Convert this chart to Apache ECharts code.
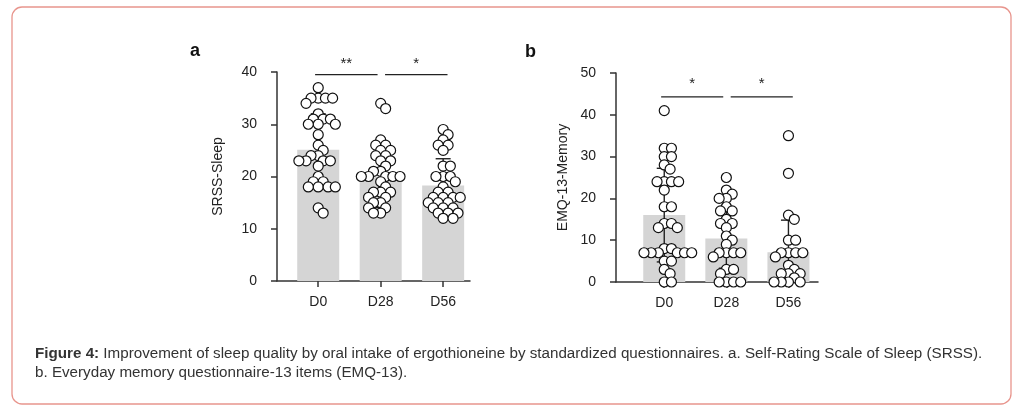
<!DOCTYPE html>
<html><head><meta charset="utf-8">
<script src="https://cdn.jsdelivr.net/npm/echarts@6/dist/echarts.min.js"></script>
<style>html,body{margin:0;padding:0;background:#fff}#c{width:1026px;height:414px}</style>
</head><body><div id="c"></div>
<script>
// ---- data ----
const categories = ['D0', 'D28', 'D56'];
const srssD0  = [37,35,35,35,35,34,32,31,31,31,30,30,30,28,26,25,24,24,23,23,23,23,22,20,19,19,18,18,18,18,14,13];
const srssD28 = [34,33,27,26,26,25,25,24,24,23,23,22,21,21,20,20,20,20,20,19,18,17,17,17,16,16,15,15,14,14,13,13];
const srssD56 = [29,28,27,26,26,25,22,22,20,20,20,19,18,17,17,16,16,16,16,15,15,15,14,14,14,13,13,13,12,12];
const srssMean = [25.1, 20.0, 18.3];
const srssSD   = [6.9, 5.9, 5.1];
const emqD0  = [41,32,32,30,30,28,27,24,24,24,24,22,18,18,14,14,13,13,8,8,7,7,7,7,7,7,5,5,3,2,0,0];
const emqD28 = [25,22,21,20,20,18,17,17,15,14,14,13,11,10,9,7,7,7,7,6,3,3,2,0,0,0,0];
const emqD56 = [35,26,16,15,10,10,7,7,7,7,6,4,3,2,2,2,1,0,0,0,0];
const emqMean = [16.0, 10.4, 7.1];
const emqSD   = [11.2, 7.1, 7.7];
const srssTicks = [0, 10, 20, 30, 40];
const emqTicks  = [0, 10, 20, 30, 40, 50];
const sigA = [['**', 0, 1], ['*', 1, 2]];
const sigB = [['*', 0, 1], ['*', 1, 2]];

// ---- layout ----
const FONT = 'Liberation Sans, Arial, sans-serif';
const gA = {left: 277, top: 72, width: 193, height: 209};
const gB = {left: 616, top: 73, width: 202, height: 209};
const xrA = [-0.66, 2.43], xrB = [-0.777, 2.476];
const yrA = [0, 40], yrB = [0, 50];

function swarm(vals, group, sx, sy, d) {
  const sorted = vals.slice().sort((a, b) => b - a);
  const placed = [], out = [];
  for (const v of sorted) {
    const py = v * sy;
    const cands = [0];
    for (const p of placed) {
      const dy = Math.abs(p.y - py);
      if (dy < d) { const w = Math.sqrt(d * d - dy * dy); cands.push(p.x + w, p.x - w); }
    }
    cands.sort((a, b) => Math.abs(a) - Math.abs(b));
    let best = 0;
    for (const c of cands) {
      const ok = placed.every(p => { const dx = c - p.x, dy = p.y - py; return dx * dx + dy * dy >= d * d - 1e-6; });
      if (ok) { best = c; break; }
    }
    placed.push({x: best, y: py});
    out.push([group + best / sx, v]);
  }
  return out;
}
function swarmAll(groups, g, xr, yr) {
  const sx = g.width / (xr[1] - xr[0]), sy = g.height / (yr[1] - yr[0]);
  let all = [];
  groups.forEach((vals, i) => { all = all.concat(swarm(vals, i, sx, sy, 7.2)); });
  return all;
}

function xAxisCfg(gi, xr) {
  return {
    type: 'value', gridIndex: gi, min: xr[0], max: xr[1],
    splitLine: {show: false},
    axisLine: {show: true, onZero: false, lineStyle: {color: '#333', width: 1.5}},
    axisTick: {show: true, customValues: [0, 1, 2], length: 6, lineStyle: {color: '#333', width: 1.5}},
    axisLabel: {customValues: [0, 1, 2], formatter: v => categories[Math.round(v)], color: '#222',
                fontSize: 14, fontFamily: FONT, margin: 14}
  };
}
function yAxisCfg(gi, yr, ticks, name, gap) {
  return {
    type: 'value', gridIndex: gi, min: yr[0], max: yr[1], interval: ticks[1] - ticks[0],
    name: name, nameLocation: 'middle', nameGap: gap, nameRotate: 90,
    nameTextStyle: {fontSize: 14, fontFamily: FONT, color: '#222'},
    splitLine: {show: false},
    axisLine: {show: true, onZero: false, lineStyle: {color: '#333', width: 1.5}},
    axisTick: {show: true, length: 6, lineStyle: {color: '#333', width: 1.5}},
    axisLabel: {color: '#222', fontSize: 14, fontFamily: FONT, margin: 20}
  };
}
function barSeries(idx, means) {
  return {type: 'bar', xAxisIndex: idx, yAxisIndex: idx, barWidth: 42, z: 1,
          itemStyle: {color: '#d5d5d5'}, data: means.map((m, i) => [i, m]), silent: true};
}
function errSeries(idx, means, sds) {
  return {type: 'custom', xAxisIndex: idx, yAxisIndex: idx, z: 2, clip: false, silent: true,
    data: means.map((m, i) => [i, m, sds[i]]),
    renderItem: (params, api) => {
      const x = api.value(0), m = api.value(1), s = api.value(2);
      const t = api.coord([x, m + s]), b = api.coord([x, Math.max(0, m - s)]);
      const hw = 7.5, st = {stroke: '#222', lineWidth: 1.4};
      return {type: 'group', children: [
        {type: 'line', shape: {x1: t[0], y1: t[1], x2: b[0], y2: b[1]}, style: st},
        {type: 'line', shape: {x1: t[0] - hw, y1: t[1], x2: t[0] + hw, y2: t[1]}, style: st},
        {type: 'line', shape: {x1: b[0] - hw, y1: b[1], x2: b[0] + hw, y2: b[1]}, style: st}
      ]};
    }};
}
function sigSeries(idx, sig, level, starLevel) {
  return {type: 'custom', xAxisIndex: idx, yAxisIndex: idx, z: 3, clip: false, silent: true,
    data: sig.map((s, k) => [s[1], s[2], k]),
    renderItem: (params, api) => {
      const i = api.value(0), j = api.value(1), k = api.value(2);
      const a = k === 0 ? i - 0.05 : i + 0.07, b = k === 0 ? j - 0.05 : j + 0.07;
      const p1 = api.coord([a, level]), p2 = api.coord([b, level]);
      const pc = api.coord([(a + b) / 2, starLevel]);
      return {type: 'group', children: [
        {type: 'line', shape: {x1: p1[0], y1: p1[1], x2: p2[0], y2: p2[1]}, style: {stroke: '#222', lineWidth: 1.3}},
        {type: 'text', x: pc[0], y: pc[1], style: {text: sig[k][0], fill: '#222', font: '15px ' + FONT,
          align: 'center', verticalAlign: 'middle'}}
      ]};
    }};
}
function dotSeries(idx, data) {
  return {type: 'scatter', xAxisIndex: idx, yAxisIndex: idx, z: 4, symbol: 'circle', symbolSize: 10,
    itemStyle: {color: '#fff', borderColor: '#111', borderWidth: 1.2, opacity: 1}, data: data, silent: true};
}

const chart = echarts.init(document.getElementById('c'), null, {renderer: 'canvas'});
chart.setOption({
  backgroundColor: '#fff',
  animation: false,
  grid: [gA, gB],
  xAxis: [xAxisCfg(0, xrA), xAxisCfg(1, xrB)],
  yAxis: [yAxisCfg(0, yrA, srssTicks, 'SRSS-Sleep', 52), yAxisCfg(1, yrB, emqTicks, 'EMQ-13-Memory', 46)],
  series: [
    barSeries(0, srssMean), errSeries(0, srssMean, srssSD), sigSeries(0, sigA, 39.5, 41.6),
    dotSeries(0, swarmAll([srssD0, srssD28, srssD56], gA, xrA, yrA)),
    barSeries(1, emqMean), errSeries(1, emqMean, emqSD), sigSeries(1, sigB, 44.3, 47.3),
    dotSeries(1, swarmAll([emqD0, emqD28, emqD56], gB, xrB, yrB))
  ],
  graphic: [
    {type: 'rect', shape: {x: 12, y: 7, width: 999, height: 397, r: 10}, silent: true,
     style: {fill: 'none', stroke: '#e8958d', lineWidth: 1.3}},
    {type: 'text', x: 190, y: 51, style: {text: 'a', font: 'bold 18px ' + FONT, fill: '#111', verticalAlign: 'middle'}},
    {type: 'text', x: 525, y: 52, style: {text: 'b', font: 'bold 18px ' + FONT, fill: '#111', verticalAlign: 'middle'}},
    {type: 'text', x: 35, y: 354, style: {
      text: '{b|Figure 4:} Improvement of sleep quality by oral intake of ergothioneine by standardized questionnaires. a. Self-Rating Scale of Sleep (SRSS).',
      font: '15.2px ' + FONT, fill: '#333', verticalAlign: 'middle',
      rich: {b: {fontWeight: 'bold', fontSize: 15.2, fontFamily: FONT, fill: '#333'}}}},
    {type: 'text', x: 35, y: 373, style: {text: 'b. Everyday memory questionnaire-13 items (EMQ-13).',
      font: '15.2px ' + FONT, fill: '#333', verticalAlign: 'middle'}}
  ]
});
</script></body></html>
